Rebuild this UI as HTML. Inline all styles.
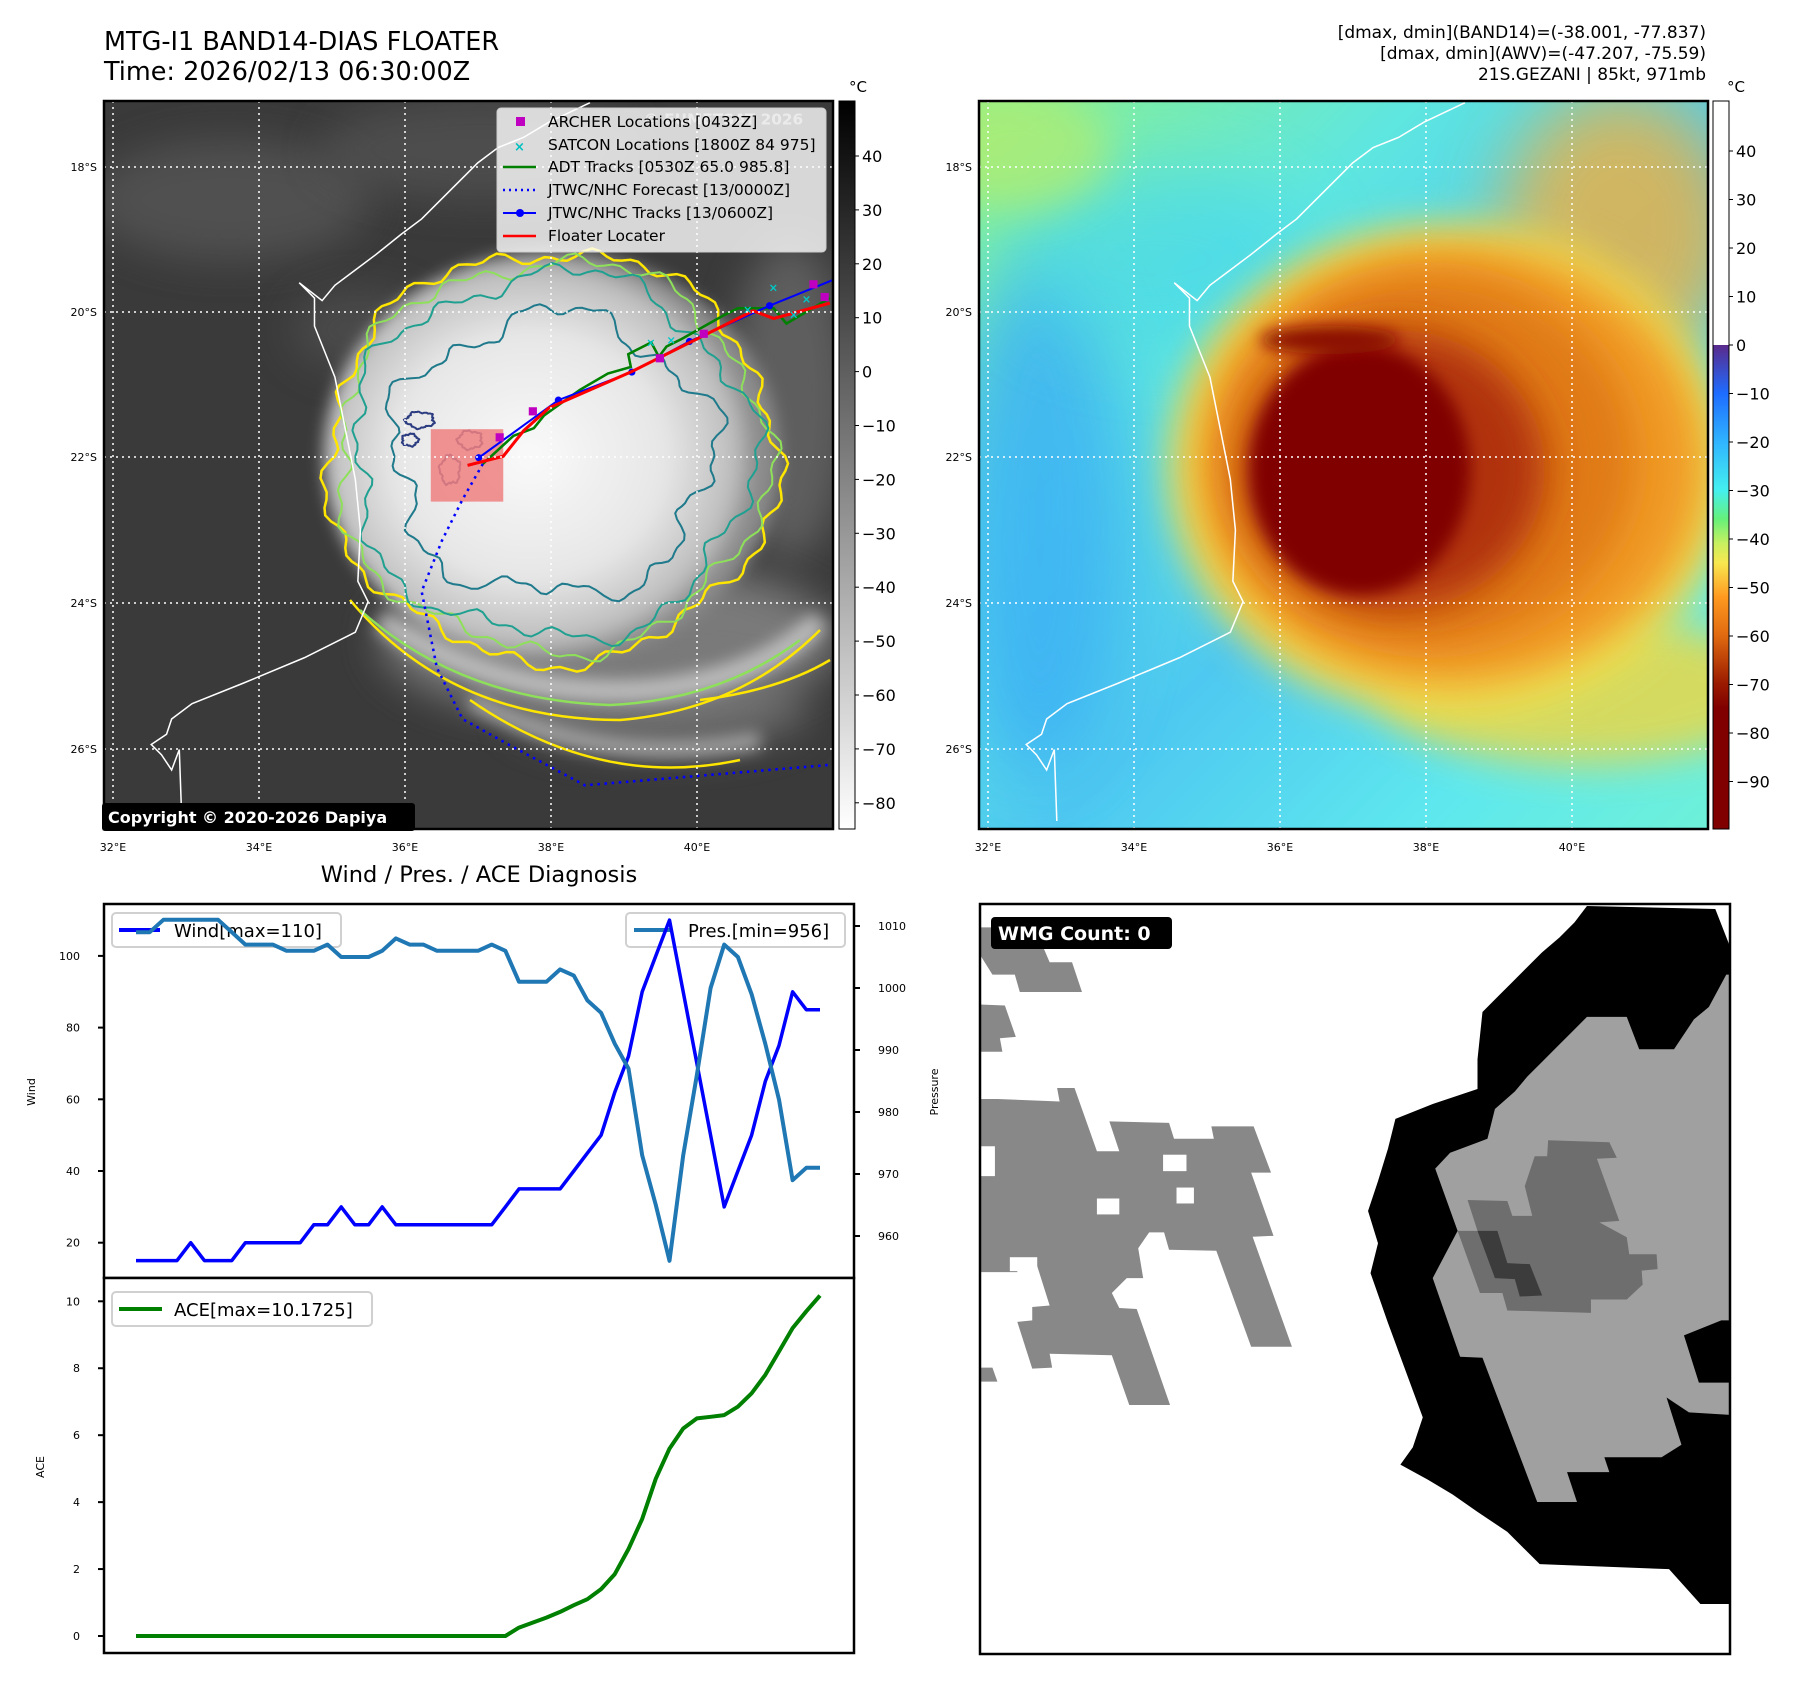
<!DOCTYPE html>
<html><head><meta charset="utf-8"><title>MTG-I1 BAND14 Floater</title>
<style>
html,body{margin:0;padding:0;background:#fff;}
svg{display:block;font-family:"DejaVu Sans","Liberation Sans",sans-serif;}
</style></head>
<body>
<svg id="root" width="1797" height="1690" viewBox="0 0 1797 1690" xmlns="http://www.w3.org/2000/svg">
<defs>
  <clipPath id="clipL"><rect x="104" y="101" width="729" height="728"/></clipPath>
  <clipPath id="clipR"><rect x="979" y="101" width="729" height="728"/></clipPath>
  <clipPath id="clipW"><rect x="980" y="904" width="750" height="750"/></clipPath>
  <filter id="b8" x="-50%" y="-50%" width="200%" height="200%"><feGaussianBlur stdDeviation="8"/></filter>
  <filter id="b20" x="-50%" y="-50%" width="200%" height="200%"><feGaussianBlur stdDeviation="20"/></filter>
  <filter id="b35" x="-50%" y="-50%" width="200%" height="200%"><feGaussianBlur stdDeviation="35"/></filter>
  <radialGradient id="cloudG" cx="0.45" cy="0.5" r="0.5">
    <stop offset="0" stop-color="#fafafa"/><stop offset="0.6" stop-color="#e6e6e6"/><stop offset="0.9" stop-color="#bdbdbd"/><stop offset="1" stop-color="#8a8a8a"/>
  </radialGradient>
  <linearGradient id="bgR" x1="0" y1="0" x2="1" y2="1">
    <stop offset="0" stop-color="#8cf08c"/><stop offset="0.3" stop-color="#5ee6e0"/><stop offset="0.55" stop-color="#4ec8f0"/><stop offset="0.8" stop-color="#5ee8ee"/><stop offset="1" stop-color="#6ef0d8"/>
  </linearGradient>
  <linearGradient id="cbL" x1="0" y1="0" x2="0" y2="1">
    <stop offset="0" stop-color="#000"/><stop offset="1" stop-color="#fff"/>
  </linearGradient>
  <linearGradient id="cbR" x1="0" y1="0" x2="0" y2="1">
    <stop offset="0" stop-color="#5a2a8c"/><stop offset="0.1" stop-color="#1e6cff"/><stop offset="0.2" stop-color="#30b4ff"/><stop offset="0.3" stop-color="#44f0f0"/><stop offset="0.36" stop-color="#66f07a"/><stop offset="0.41" stop-color="#c8f060"/><stop offset="0.45" stop-color="#f8e850"/><stop offset="0.52" stop-color="#ff9a20"/><stop offset="0.6" stop-color="#e06a10"/><stop offset="0.7" stop-color="#9a1a00"/><stop offset="0.75" stop-color="#800000"/><stop offset="1" stop-color="#800000"/>
  </linearGradient>
</defs>

<!-- Titles -->
<text x="104" y="50" font-size="25.5" fill="#000">MTG-I1 BAND14-DIAS FLOATER</text>
<text x="104" y="80" font-size="25.5" fill="#000">Time: 2026/02/13 06:30:00Z</text>
<g font-size="17" text-anchor="end" fill="#000">
  <text x="1706" y="38">[dmax, dmin](BAND14)=(-38.001, -77.837)</text>
  <text x="1706" y="59">[dmax, dmin](AWV)=(-47.207, -75.59)</text>
  <text x="1706" y="80">21S.GEZANI | 85kt, 971mb</text>
</g>

<!-- LEFT MAP -->
<g clip-path="url(#clipL)">
  <rect x="104" y="101" width="729" height="728" fill="#3a3a3a"/>
  <ellipse cx="230" cy="200" rx="140" ry="60" fill="#5a5a5a" filter="url(#b20)" opacity="0.7"/>
  <ellipse cx="480" cy="150" rx="160" ry="50" fill="#5a5a5a" filter="url(#b20)" opacity="0.6"/>
  <ellipse cx="360" cy="330" rx="70" ry="40" fill="#555" filter="url(#b20)" opacity="0.6"/>
  <ellipse cx="610" cy="640" rx="230" ry="80" fill="#8a8a8a" filter="url(#b20)" opacity="0.8"/>
  <ellipse cx="660" cy="710" rx="150" ry="40" fill="#7a7a7a" filter="url(#b20)" opacity="0.7"/>
  <ellipse cx="790" cy="400" rx="60" ry="160" fill="#777" filter="url(#b20)" opacity="0.6"/>
  <ellipse cx="552" cy="456" rx="228" ry="205" fill="url(#cloudG)" filter="url(#b8)"/>
  <path d="M380,620 Q500,700 650,690 Q760,680 820,620" stroke="#cfcfcf" stroke-width="22" fill="none" filter="url(#b8)" opacity="0.8"/>
  <path d="M470,700 Q600,770 760,740" stroke="#bdbdbd" stroke-width="16" fill="none" filter="url(#b8)" opacity="0.8"/>
  <g id="contoursL" fill="none"></g>
  <g id="mapOverlayL" transform="translate(90,20) scale(0.5102)">
    <path id="coastL" d="M980,162 L900,200 L850,230 L800,250 L760,280 L740,300 L700,340 L650,390 L610,420 L560,460 L520,490 L480,520 L455,550 L410,515 L440,545 L440,600 L460,650 L480,700 L490,750 L500,800 L520,900 L530,1000 L525,1100 L545,1140 L520,1200 L420,1250 L300,1300 L200,1340 L160,1370 L150,1400 L120,1420 L140,1440 L160,1470 L175,1430 L180,1570" fill="none" stroke="#fff" stroke-width="3"/>
    <rect x="668" y="802" width="142" height="142" fill="#f08080" opacity="0.85"/>
    <polyline points="770,870 730,940 690,1020 650,1120 680,1270 730,1370 820,1420 970,1500 1450,1460" fill="none" stroke="#0000ff" stroke-width="5" stroke-dasharray="5,9"/>
    <polyline points="770,870 830,815 870,800 890,775 960,725 1015,693 1060,680 1055,655 1100,632 1115,660 1130,640 1160,625 1240,580 1270,565 1340,565 1365,595 1450,545" fill="none" stroke="#008000" stroke-width="5"/>
    <polyline points="762,858 918,745 1062,690 1175,630 1332,560 1455,510" fill="none" stroke="#0000ff" stroke-width="4"/>
    <g fill="#0000ff">
      <circle cx="762" cy="858" r="7"/><circle cx="918" cy="745" r="7"/><circle cx="1062" cy="690" r="7"/><circle cx="1175" cy="630" r="7"/><circle cx="1332" cy="560" r="7"/>
    </g>
    <polyline points="740,873 810,855 850,805 900,760 1060,690 1160,640 1300,570 1340,585 1450,555" fill="none" stroke="#ff0000" stroke-width="6"/>
    <g fill="#c000c0">
      <rect x="860" y="759" width="16" height="16"/><rect x="795" y="810" width="16" height="16"/><rect x="1109" y="655" width="16" height="16"/><rect x="1195" y="607" width="16" height="16"/><rect x="1410" y="510" width="16" height="16"/><rect x="1432" y="535" width="16" height="16"/>
    </g>
    <g fill="#00c8c8" font-size="22" font-weight="bold">
      <text x="1330" y="532">×</text><text x="1395" y="555">×</text><text x="1280" y="575">×</text><text x="1370" y="585">×</text><text x="1090" y="640">×</text><text x="1130" y="635">×</text>
    </g>
    <text x="1085" y="205" font-size="30" font-weight="bold" fill="#fff" opacity="0.5">© EUMETSAT 2026</text>
  </g>
  <g stroke="#fff" stroke-width="1.5" stroke-dasharray="2,4">
    <line x1="113" y1="101" x2="113" y2="829"/><line x1="259" y1="101" x2="259" y2="829"/><line x1="405" y1="101" x2="405" y2="829"/><line x1="551" y1="101" x2="551" y2="829"/><line x1="697" y1="101" x2="697" y2="829"/>
    <line x1="104" y1="167" x2="833" y2="167"/><line x1="104" y1="312" x2="833" y2="312"/><line x1="104" y1="457" x2="833" y2="457"/><line x1="104" y1="603" x2="833" y2="603"/><line x1="104" y1="749" x2="833" y2="749"/>
  </g>
</g>
<rect x="104" y="101" width="729" height="728" fill="none" stroke="#000" stroke-width="2.5"/>

<!-- legend -->
<g>
  <rect x="497" y="108" width="329" height="144" rx="4" fill="#fff" fill-opacity="0.8" stroke="#ccc"/>
  <g font-size="15.5" fill="#000">
    <rect x="516" y="117" width="9" height="9" fill="#c000c0"/><text x="548" y="127">ARCHER Locations [0432Z]</text>
    <text x="514" y="151" fill="#00c0c0" font-weight="bold" font-size="13">×</text><text x="548" y="150">SATCON Locations [1800Z 84 975]</text>
    <line x1="503" y1="167" x2="536" y2="167" stroke="#008000" stroke-width="2.5"/><text x="548" y="172">ADT Tracks [0530Z 65.0 985.8]</text>
    <line x1="503" y1="190" x2="536" y2="190" stroke="#0000ff" stroke-width="2.5" stroke-dasharray="2,4"/><text x="548" y="195">JTWC/NHC Forecast [13/0000Z]</text>
    <line x1="503" y1="213" x2="536" y2="213" stroke="#0000ff" stroke-width="2"/><circle cx="520" cy="213" r="4" fill="#0000ff"/><text x="548" y="218">JTWC/NHC Tracks [13/0600Z]</text>
    <line x1="503" y1="236" x2="536" y2="236" stroke="#ff0000" stroke-width="2.5"/><text x="548" y="241">Floater Locater</text>
  </g>
</g>
<g>
  <rect x="102" y="803" width="313" height="28" rx="3" fill="#000"/>
  <text x="108" y="823" font-size="16" font-weight="bold" fill="#fff">Copyright © 2020-2026 Dapiya</text>
</g>
<!-- left axis labels -->
<g font-size="11" fill="#000" text-anchor="end">
  <text x="97" y="171">18°S</text><text x="97" y="316">20°S</text><text x="97" y="461">22°S</text><text x="97" y="607">24°S</text><text x="97" y="753">26°S</text>
</g>
<g font-size="11" fill="#000" text-anchor="middle">
  <text x="113" y="851">32°E</text><text x="259" y="851">34°E</text><text x="405" y="851">36°E</text><text x="551" y="851">38°E</text><text x="697" y="851">40°E</text>
</g>
<!-- left colorbar -->
<g>
  <rect x="839" y="101" width="16" height="728" fill="url(#cbL)" stroke="#000" stroke-width="1"/>
  <text x="858" y="92" font-size="15" text-anchor="middle">°C</text>
  <g id="cbLticks" font-size="16" fill="#000"></g>
</g>

<!-- RIGHT MAP -->
<g clip-path="url(#clipR)">
  <rect x="979" y="101" width="729" height="728" fill="url(#bgR)"/>
  <ellipse cx="1040" cy="520" rx="90" ry="260" fill="#3aaef5" filter="url(#b35)" opacity="0.8"/>
  <ellipse cx="1160" cy="260" rx="150" ry="90" fill="#44d6f0" filter="url(#b35)" opacity="0.6"/>
  <ellipse cx="1020" cy="150" rx="90" ry="60" fill="#b4ec70" filter="url(#b20)" opacity="0.7"/>
  <ellipse cx="1620" cy="230" rx="120" ry="140" fill="#f0b040" filter="url(#b35)" opacity="0.8"/>
  <ellipse cx="1580" cy="690" rx="200" ry="75" fill="#e8d84a" filter="url(#b20)" opacity="0.85"/>
  <ellipse cx="1450" cy="470" rx="280" ry="245" fill="#f0e050" filter="url(#b20)"/>
  <ellipse cx="1450" cy="465" rx="255" ry="220" fill="#f09a28" filter="url(#b20)"/>
  <ellipse cx="1430" cy="460" rx="205" ry="185" fill="#e07a18" filter="url(#b20)"/>
  <ellipse cx="1395" cy="470" rx="150" ry="140" fill="#b03008" filter="url(#b20)"/>
  <ellipse cx="1360" cy="470" rx="110" ry="125" fill="#800000" filter="url(#b8)"/>
  <ellipse cx="1330" cy="340" rx="70" ry="14" fill="#8a1000" filter="url(#b8)"/>
  <g transform="translate(875,0)">
    <use href="#coastL" transform="translate(90,20) scale(0.5102)"/>
  </g>
  <g stroke="#fff" stroke-width="1.5" stroke-dasharray="2,4">
    <line x1="988" y1="101" x2="988" y2="829"/><line x1="1134" y1="101" x2="1134" y2="829"/><line x1="1280" y1="101" x2="1280" y2="829"/><line x1="1426" y1="101" x2="1426" y2="829"/><line x1="1572" y1="101" x2="1572" y2="829"/>
    <line x1="979" y1="167" x2="1708" y2="167"/><line x1="979" y1="312" x2="1708" y2="312"/><line x1="979" y1="457" x2="1708" y2="457"/><line x1="979" y1="603" x2="1708" y2="603"/><line x1="979" y1="749" x2="1708" y2="749"/>
  </g>
</g>
<rect x="979" y="101" width="729" height="728" fill="none" stroke="#000" stroke-width="2.5"/>
<g font-size="11" fill="#000" text-anchor="end">
  <text x="972" y="171">18°S</text><text x="972" y="316">20°S</text><text x="972" y="461">22°S</text><text x="972" y="607">24°S</text><text x="972" y="753">26°S</text>
</g>
<g font-size="11" fill="#000" text-anchor="middle">
  <text x="988" y="851">32°E</text><text x="1134" y="851">34°E</text><text x="1280" y="851">36°E</text><text x="1426" y="851">38°E</text><text x="1572" y="851">40°E</text>
</g>
<g>
  <rect x="1713" y="101" width="16" height="244" fill="#fff"/>
  <rect x="1713" y="345" width="16" height="484" fill="url(#cbR)"/>
  <rect x="1713" y="101" width="16" height="728" fill="none" stroke="#000" stroke-width="1"/>
  <text x="1736" y="92" font-size="15" text-anchor="middle">°C</text>
  <g id="cbRticks" font-size="16" fill="#000"></g>
</g>

<!-- BOTTOM LEFT CHART -->
<text x="479" y="882" font-size="22.5" text-anchor="middle" fill="#000">Wind / Pres. / ACE Diagnosis</text>
<g id="chart">
  <rect x="104" y="904" width="750" height="374" fill="#fff" stroke="#000" stroke-width="2.5"/>
  <rect x="104" y="1278" width="750" height="375" fill="#fff" stroke="#000" stroke-width="2.5"/>
  <g>
    <rect x="112" y="913" width="229" height="34" rx="4" fill="#fff" fill-opacity="0.8" stroke="#d0d0d0" stroke-width="2"/>
    <line x1="119" y1="930" x2="160" y2="930" stroke="#0000ff" stroke-width="4"/>
    <text x="174" y="937" font-size="18">Wind[max=110]</text>
  </g>
  <g>
    <rect x="626" y="913" width="219" height="34" rx="4" fill="#fff" fill-opacity="0.8" stroke="#d0d0d0" stroke-width="2"/>
    <line x1="634" y1="930" x2="672" y2="930" stroke="#1f77b4" stroke-width="4"/>
    <text x="688" y="937" font-size="18">Pres.[min=956]</text>
  </g>
  <g>
    <rect x="112" y="1292" width="260" height="34" rx="4" fill="#fff" fill-opacity="0.8" stroke="#d0d0d0" stroke-width="2"/>
    <line x1="119" y1="1309" x2="162" y2="1309" stroke="#008000" stroke-width="4"/>
    <text x="174" y="1316" font-size="18">ACE[max=10.1725]</text>
  </g>
  <g id="series"></g>
  <g id="ticks" font-size="11" fill="#000"></g>
  <text transform="translate(35,1092) rotate(-90)" font-size="11" text-anchor="middle">Wind</text>
  <text transform="translate(938,1092) rotate(-90)" font-size="11" text-anchor="middle">Pressure</text>
  <text transform="translate(44,1467) rotate(-90)" font-size="11" text-anchor="middle">ACE</text>
</g>

<!-- BOTTOM RIGHT WMG -->
<g clip-path="url(#clipW)">
  <rect x="980" y="904" width="750" height="750" fill="#fff"/>
  <g transform="translate(980,900) scale(0.4975)">
    <polygon fill="#000" points="1220,12 1478,18 1508,95 1508,1415 1448,1415 1385,1345 1125,1335 1060,1270 1000,1230 950,1195 900,1165 845,1135 870,1100 890,1040 820,850 785,750 800,690 780,625 800,565 820,500 835,440 910,410 1000,380 1000,320 1010,225 1040,195 1070,165 1100,135 1130,105 1165,75 1195,45"/>
    <polygon fill="#a0a0a0" points="1220,235 1300,235 1325,300 1395,300 1435,240 1465,215 1500,150 1508,150 1508,845 1490,845 1415,875 1445,970 1508,970 1508,1035 1425,1030 1380,1000 1410,1095 1370,1120 1255,1120 1265,1150 1180,1150 1200,1210 1120,1210 1010,920 965,918 910,760 960,665 915,540 945,508 1020,480 1035,420 1075,385 1100,355 1130,325 1160,295 1190,265"/>
    <polygon fill="#6e6e6e" points="1142,483 1265,487 1280,518 1240,520 1285,645 1245,648 1300,678 1305,712 1360,712 1362,742 1330,745 1332,773 1300,803 1228,803 1228,830 1060,825 1050,790 1005,790 960,665 1000,665 980,603 1060,605 1070,635 1110,635 1095,575 1115,515 1140,515"/>
    <polygon fill="#3c3c3c" points="1000,665 1040,665 1060,730 1105,732 1130,795 1085,797 1075,762 1035,760"/>
    <g fill="#888">
      <polygon points="0,400 35,400 160,405 155,378 190,378 235,505 280,505 260,445 380,448 390,480 470,480 465,455 550,455 585,548 545,548 590,675 548,677 627,898 545,898 475,705 380,703 370,668 340,668 318,700 328,760 295,760 265,790 280,820 315,822 382,1015 300,1015 265,915 140,912 145,940 105,942 75,848 105,845 105,818 140,815 110,720 75,720 75,748 0,748"/>
      <polygon points="0,55 110,55 140,125 185,125 205,185 80,185 70,150 25,150 0,110"/>
      <polygon points="0,210 50,212 72,275 40,278 45,305 0,305"/>
      <polygon points="0,940 25,940 35,968 0,968"/>
    </g>
    <g fill="#fff">
      <rect x="235" y="600" width="45" height="32"/><rect x="368" y="512" width="47" height="33"/><rect x="395" y="578" width="35" height="32"/><rect x="0" y="495" width="30" height="60"/><rect x="60" y="718" width="55" height="28"/>
    </g>
  </g>
  <rect x="991" y="917" width="181" height="32" rx="4" fill="#000"/>
  <text x="998" y="940" font-size="19" font-weight="bold" fill="#fff">WMG Count: 0</text>
</g>
<rect x="980" y="904" width="750" height="750" fill="none" stroke="#000" stroke-width="2.5"/>

<script>
// ---- chart data ----
const windVals = [15,15,15,15,20,15,15,15,20,20,20,20,20,25,25,30,25,25,30,25,25,25,25,25,25,25,25,30,35,35,35,35,40,45,50,62,72,90,100,110,90,70,50,30,40,50,65,75,90,85,85];
const presVals = [1009,1009,1011,1011,1011,1011,1011,1009,1007,1007,1007,1006,1006,1006,1007,1005,1005,1005,1006,1008,1007,1007,1006,1006,1006,1006,1007,1006,1001,1001,1001,1003,1002,998,996,991,987,973,965,956,973,986,1000,1007,1005,999,991,982,969,971,971];
const aceVals = [0,0,0,0,0,0,0,0,0,0,0,0,0,0,0,0,0,0,0,0,0,0,0,0,0,0,0,0,0.25,0.4,0.55,0.72,0.92,1.1,1.4,1.85,2.6,3.5,4.7,5.6,6.2,6.5,6.55,6.6,6.85,7.25,7.8,8.5,9.2,9.7,10.17];
const windTicks = [20,40,60,80,100];
const presTicks = [960,970,980,990,1000,1010];
const aceTicks = [0,2,4,6,8,10];
const cbLTicks = [40,30,20,10,0,-10,-20,-30,-40,-50,-60,-70,-80];
const cbRTicks = [40,30,20,10,0,-10,-20,-30,-40,-50,-60,-70,-80,-90];

const NS = "http://www.w3.org/2000/svg";
function xIdx(i, n){ return 136 + i * (820 - 136) / (n - 1); }
function yWind(v){ return 1242.7 - (v - 20) * 3.585; }
function yPres(v){ return 1236 - (v - 960) * 6.2; }
function yAce(v){ return 1636 - v * 33.47; }
function yCbL(v){ return 156 + (40 - v) * 5.39; }
function yCbR(v){ return 151 + (40 - v) * 4.85; }

function mk(tag, attrs, parent){
  const e = document.createElementNS(NS, tag);
  for (const k in attrs) e.setAttribute(k, attrs[k]);
  parent.appendChild(e);
  return e;
}
function pts(vals, yf){ return vals.map((v,i)=> xIdx(i, vals.length).toFixed(1)+","+yf(v).toFixed(1)).join(" "); }

const series = document.getElementById("series");
const windLine = mk("polyline", {points: pts(windVals, yWind), fill:"none", stroke:"#0000ff", "stroke-width":"3.5", "stroke-linejoin":"round"}, series);


const presLine = mk("polyline", {points: pts(presVals, yPres), fill:"none", stroke:"#1f77b4", "stroke-width":"4", "stroke-linejoin":"round"}, series);


const aceLine = mk("polyline", {points: pts(aceVals, yAce), fill:"none", stroke:"#008000", "stroke-width":"4", "stroke-linejoin":"round"}, series);



const ticks = document.getElementById("ticks");
windTicks.forEach(v=>{
  const y = yWind(v);
  const l = mk("line", {x1:98, x2:104, y1:y, y2:y, stroke:"#000", "stroke-width":2}, ticks);
  
  
  const t = mk("text", {x:80, y:y+4, "text-anchor":"end"}, ticks);
  t.textContent = v;
  
  
});
presTicks.forEach(v=>{
  const y = yPres(v);
  const l = mk("line", {x1:854, x2:860, y1:y, y2:y, stroke:"#000", "stroke-width":2}, ticks);
  
  
  const t = mk("text", {x:878, y:y+4}, ticks);
  t.textContent = v;
  
  
});
aceTicks.forEach(v=>{
  const y = yAce(v);
  const l = mk("line", {x1:98, x2:104, y1:y, y2:y, stroke:"#000", "stroke-width":2}, ticks);
  
  
  const t = mk("text", {x:80, y:y+4, "text-anchor":"end"}, ticks);
  t.textContent = v;
  
  
});

const cbL = document.getElementById("cbLticks");
cbLTicks.forEach(v=>{
  const y = yCbL(v);
  mk("line", {x1:855, x2:859, y1:y, y2:y, stroke:"#000"}, cbL);
  const t = mk("text", {x:862, y:y+6}, cbL);
  t.textContent = (v<0 ? "\u2212"+(-v) : v);
  
  
});
const cbR = document.getElementById("cbRticks");
cbRTicks.forEach(v=>{
  const y = yCbR(v);
  mk("line", {x1:1729, x2:1733, y1:y, y2:y, stroke:"#000"}, cbR);
  const t = mk("text", {x:1736, y:y+6}, cbR);
  t.textContent = (v<0 ? "\u2212"+(-v) : v);
  
  
});

// ---- decorative cloud-top contours on IR map ----
function wobble(cx, cy, rx, ry, a1, a2, ph){
  let d = "";
  for (let k=0;k<=180;k++){
    const t = k/180*Math.PI*2;
    const r = 1 + a1*Math.sin(5*t+ph) + a2*Math.sin(13*t+ph*2) + 0.02*Math.sin(31*t+ph*3);
    const x = cx + rx*r*Math.cos(t), y = cy + ry*r*Math.sin(t);
    d += (k? "L":"M") + x.toFixed(1) + "," + y.toFixed(1);
  }
  return d + "Z";
}
const cg = document.getElementById("contoursL");
const rings = [
  {rx:225,ry:205,c:"#ffe600",w:2.5,a:0.03,b:0.02,p:0.3,name:"contour-yellow"},
  {rx:215,ry:195,c:"#8ee05a",w:2,a:0.035,b:0.025,p:1.1,name:"contour-lightgreen"},
  {rx:200,ry:182,c:"#20a090",w:2,a:0.05,b:0.03,p:2.0,name:"contour-teal"},
  {rx:160,ry:140,c:"#1f7a8c",w:2,a:0.08,b:0.05,p:2.7,name:"contour-darkteal"}
];
rings.forEach(r=>{
  const p = mk("path", {d: wobble(552,456,r.rx,r.ry,r.a,r.b,r.p), stroke:r.c, "stroke-width":r.w}, cg);
  
  
});
const bands = [
  {d:"M350,600 Q450,720 620,720 Q740,710 820,630", c:"#ffe600"},
  {d:"M470,700 Q600,790 740,760", c:"#ffe600"},
  {d:"M360,610 Q460,700 610,705 Q720,700 800,640", c:"#8ee05a"},
  {d:"M700,700 Q780,690 830,660", c:"#ffe600"}
];
bands.forEach(bd=>{
  const p = mk("path", {d:bd.d, stroke:bd.c, "stroke-width":2.5, fill:"none"}, cg);
  
  
});
[[420,420,14,8],[450,470,10,14],[410,440,8,6],[470,440,12,9]].forEach(c=>{
  const p = mk("path", {d: wobble(c[0],c[1],c[2],c[3],0.1,0.05,c[0]), stroke:"#2c3c80", "stroke-width":2}, cg);
  
  
});
</script>
</svg>
</body></html>
